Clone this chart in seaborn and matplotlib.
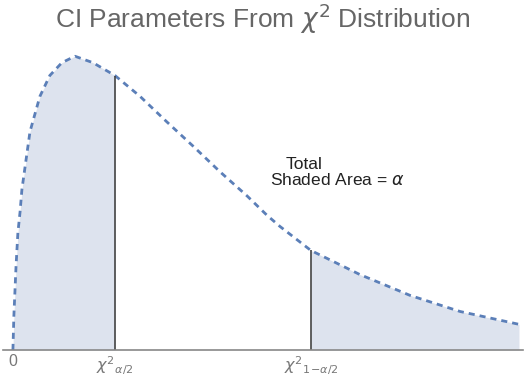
import numpy as np
import pandas as pd
import seaborn as sns
import matplotlib.pyplot as plt

# curve (x in chi-square units, y density)
curve_x = [0.0, 0.03, 0.10, 0.16, 0.23, 0.29, 0.55, 0.87, 1.19, 1.58, 2.00, 2.58,
           3.29, 4.10, 4.97, 5.81, 6.68, 7.55, 8.19, 8.61, 9.61, 11.19, 12.81,
           14.42, 16.32]
curve_y = [0.000, 0.021, 0.052, 0.073, 0.086, 0.100, 0.136, 0.158, 0.171, 0.179,
           0.183, 0.179, 0.171, 0.158, 0.142, 0.127, 0.111, 0.096, 0.084, 0.077,
           0.062, 0.047, 0.034, 0.024, 0.016]
crit_lo = 3.29
crit_hi = 9.61
tick_pos = [0, crit_lo, crit_hi]
tick_labels = ['0', r'$\chi^{2}{}_{\alpha/2}$', r'$\chi^{2}{}_{1\!-\!\alpha/2}$']

df = pd.DataFrame({'x': curve_x, 'y': curve_y})

sns.set_style('white')
plt.rcParams['font.family'] = ['Liberation Sans', 'DejaVu Sans']

fig = plt.figure(figsize=(5.25, 3.79), dpi=100)
ax = fig.add_axes([3 / 525, 29 / 379, 520 / 525, 305 / 379])

x = df['x'].to_numpy()
y = df['y'].to_numpy()
ax.fill_between(x, 0, y, where=x <= crit_lo, color='#dde3ee', lw=0)
ax.fill_between(x, 0, y, where=x >= crit_hi, color='#dde3ee', lw=0)

sns.lineplot(data=df, x='x', y='y', ax=ax, color='#5b7fb8', lw=2,
             linestyle=(0, (2.2, 1.8)), sort=False)

y_lo = df.loc[df['x'] == crit_lo, 'y'].iloc[0]
y_hi = df.loc[df['x'] == crit_hi, 'y'].iloc[0]
ax.vlines([crit_lo, crit_hi], 0, [y_lo, y_hi], color='#444444', lw=1.2)

ax.set_xlim(-0.32, 16.45)
ax.set_ylim(0, 0.19)
sns.despine(ax=ax, left=True)
ax.spines['bottom'].set_color('#888888')
ax.spines['bottom'].set_linewidth(1.2)
ax.set_yticks([])
ax.set_xticks(tick_pos)
ax.set_xticklabels(tick_labels, color='#777777', fontsize=11.5)
ax.tick_params(axis='x', length=0, pad=3)
ax.set_xlabel('')
ax.set_ylabel('')

ax.text(9.39, 0.1125, 'Total', ha='center', va='baseline', fontsize=12.5, color='#222222')
ax.text(8.29, 0.1030, r'Shaded Area = $\alpha$', ha='left', va='baseline',
        fontsize=12.5, color='#222222')

fig.text(0.5, 1 - 28 / 379, r'CI Parameters From $\chi^2$ Distribution',
         ha='center', va='baseline', fontsize=19, color='#666666')

fig.savefig('out.png', dpi=100)
